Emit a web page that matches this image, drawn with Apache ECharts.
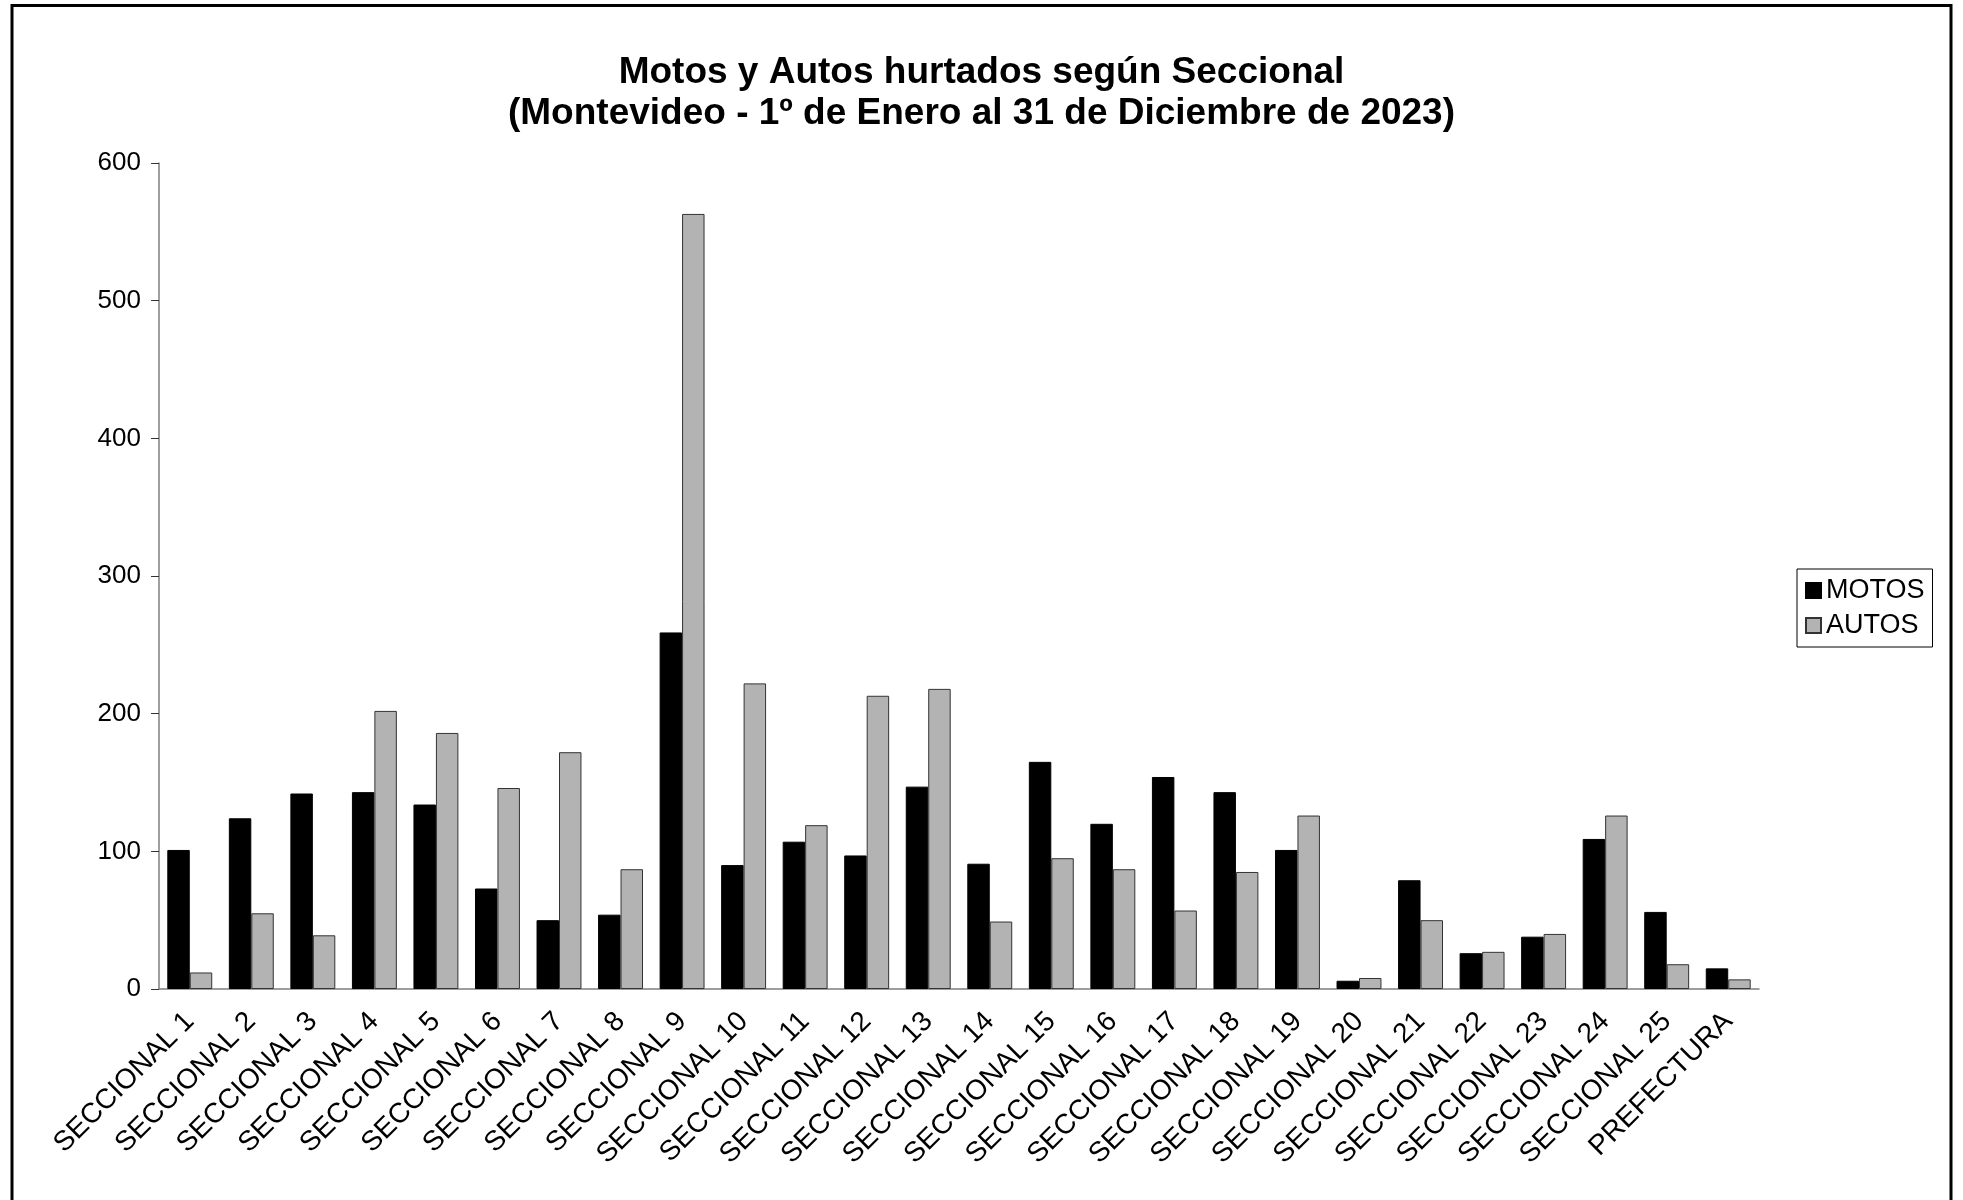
<!DOCTYPE html>
<html lang="es">

<head>
    <meta charset="UTF-8">
    <title>Motos y Autos hurtados</title>
    <script src="https://cdn.jsdelivr.net/npm/echarts@6/dist/echarts.min.js"></script>
    <style>
        html, body { margin: 0; padding: 0; background: #fff; }
        #chart1 { width: 1963px; height: 1200px; }
    </style>
</head>

<body>
    <div id="chart1"></div>
    <script>
        var seccionales = [
            'SECCIONAL 1', 'SECCIONAL 2', 'SECCIONAL 3', 'SECCIONAL 4', 'SECCIONAL 5',
            'SECCIONAL 6', 'SECCIONAL 7', 'SECCIONAL 8', 'SECCIONAL 9', 'SECCIONAL 10',
            'SECCIONAL 11', 'SECCIONAL 12', 'SECCIONAL 13', 'SECCIONAL 14', 'SECCIONAL 15',
            'SECCIONAL 16', 'SECCIONAL 17', 'SECCIONAL 18', 'SECCIONAL 19', 'SECCIONAL 20',
            'SECCIONAL 21', 'SECCIONAL 22', 'SECCIONAL 23', 'SECCIONAL 24', 'SECCIONAL 25',
            'PREFECTURA'
        ];

        var motos = [101, 124, 142, 143, 134, 73, 50, 54, 259, 90, 107, 97, 147, 91, 165, 120, 154, 143, 101, 6, 79, 26, 38, 109, 56, 15];
        var autos = [12, 55, 39, 202, 186, 146, 172, 87, 563, 222, 119, 213, 218, 49, 95, 87, 57, 85, 126, 8, 50, 27, 40, 126, 18, 7];

        var font = "'Liberation Sans', Arial, sans-serif";

        var chart1 = echarts.init(document.getElementById('chart1'));
        chart1.setOption({
            backgroundColor: '#fff',
            animation: false,
            textStyle: { fontFamily: font },
            title: {
                text: 'Motos y Autos hurtados según Seccional\n(Montevideo - 1º de Enero al 31 de Diciembre de 2023)',
                left: 'center',
                top: 47,
                textStyle: {
                    fontFamily: font,
                    fontSize: 37,
                    fontWeight: 'bold',
                    color: '#000',
                    lineHeight: 41
                }
            },
            graphic: [
                {
                    type: 'rect',
                    shape: { x: 12, y: 5.5, width: 1939, height: 1300 },
                    style: { fill: 'none', stroke: '#000', lineWidth: 3 },
                    silent: true
                }
            ],
            legend: {
                orient: 'vertical',
                left: 1797,
                top: 569,
                padding: [8, 8],
                borderColor: '#000',
                borderWidth: 1,
                itemWidth: 15,
                itemHeight: 15,
                itemGap: 8,
                icon: 'rect',
                textStyle: { fontFamily: font, fontSize: 27, color: '#000' },
                data: ['MOTOS', 'AUTOS']
            },
            grid: {
                left: 159,
                right: 204,
                top: 163,
                bottom: 211
            },
            xAxis: {
                type: 'category',
                data: seccionales,
                axisLine: { lineStyle: { color: '#7f7f7f', width: 1.5 } },
                axisTick: { length: 10, lineStyle: { color: '#333' } },
                axisLabel: {
                    rotate: 45,
                    interval: 0,
                    margin: 28,
                    fontFamily: font,
                    fontSize: 28,
                    color: '#000'
                }
            },
            yAxis: {
                type: 'value',
                min: 0,
                max: 600,
                interval: 100,
                axisLine: { show: true, lineStyle: { color: '#7f7f7f', width: 1.5 } },
                axisTick: { show: true, length: 8, lineStyle: { color: '#333' } },
                splitLine: { show: false },
                axisLabel: {
                    margin: 18,
                    fontFamily: font,
                    fontSize: 26,
                    color: '#000'
                }
            },
            series: [
                {
                    name: 'MOTOS',
                    type: 'bar',
                    data: motos,
                    barGap: '0%',
                    barCategoryGap: '27%',
                    itemStyle: { color: '#000', borderColor: '#000', borderWidth: 1 }
                },
                {
                    name: 'AUTOS',
                    type: 'bar',
                    data: autos,
                    itemStyle: { color: '#b3b3b3', borderColor: '#333', borderWidth: 1 }
                }
            ]
        });
    </script>
</body>

</html>
